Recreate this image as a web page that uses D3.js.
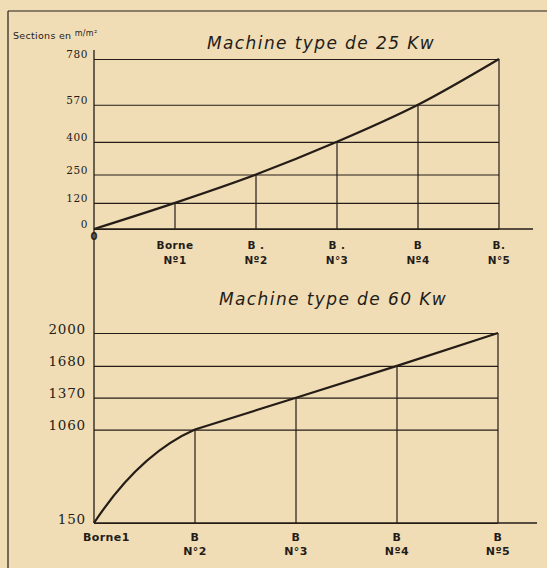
<!DOCTYPE html>
<html>
<head>
<meta charset="utf-8">
<script src="https://cdn.jsdelivr.net/npm/d3@7"></script>
<style>
  html, body { margin: 0; padding: 0; background: #f0ddb6; }
  svg { display: block; }
  text { fill: #241c16; }
</style>
</head>
<body>
<svg id="chart" width="547" height="568"></svg>
<script>
// Machine type de 25 Kw : sections (mm²) at each terminal
const stations25 = [0, 1, 2, 3, 4, 5];
const sections25 = [0, 120, 250, 400, 570, 780];
const ticks25 = [0, 120, 250, 400, 570, 780];
const labels25 = [null, ["Borne", "Nº1"], ["B .", "Nº2"], ["B .", "N°3"], ["B", "Nº4"], ["B.", "N°5"]];

// Machine type de 60 Kw
const stations60 = [0, 1, 2, 3, 4];
const sections60 = [150, 1060, 1370, 1680, 2000];
const ticks60 = [150, 1060, 1370, 1680, 2000];
const labels60 = [["Borne1"], ["B", "N°2"], ["B", "N°3"], ["B", "Nº4"], ["B", "Nº5"]];

const ink = "#241c16";
const svg = d3.select("#chart");

// page frame
svg.append("line").attr("x1", 8).attr("y1", 11).attr("x2", 547).attr("y2", 11)
  .attr("stroke", ink).attr("stroke-width", 1.2);
svg.append("line").attr("x1", 8).attr("y1", 11).attr("x2", 8).attr("y2", 568)
  .attr("stroke", ink).attr("stroke-width", 1.2);

// shared vertical axis line for both charts
svg.append("line").attr("x1", 94).attr("y1", 50).attr("x2", 94).attr("y2", 523)
  .attr("stroke", ink).attr("stroke-width", 1.3);

svg.append("text").attr("x", 13).attr("y", 39)
  .attr("font-family", "DejaVu Sans").attr("font-size", 9.5)
  .attr("letter-spacing", 0.3)
  .text("Sections en ")
  .append("tspan").attr("font-size", 8).attr("dy", -3).text("m/m²");

// upper curve: smooth monotone spline through the terminal values
function monotonePath(x, y, stations, sections) {
  return d3.line().x(d => x(d)).y(d => y(sections[d])).curve(d3.curveMonotoneX)(stations);
}

// lower curve: bowed rise to the second terminal, then straight runs
function bowedPath(x, y, stations, sections) {
  const p = d3.path();
  const x0 = x(stations[0]), y0 = y(sections[0]);
  const x1 = x(stations[1]), y1 = y(sections[1]);
  const x2 = x(stations[2]), y2 = y(sections[2]);
  const s = 1.4 * (y1 - y2) / (x2 - x1);
  const cx = x0 + 0.45 * (x1 - x0);
  const cy = y1 + s * (x1 - cx);
  p.moveTo(x0, y0);
  p.quadraticCurveTo(cx, cy, x1, y1);
  stations.slice(2).forEach(d => p.lineTo(x(d), y(sections[d])));
  return p.toString();
}

function drawPanel(cfg) {
  const g = svg.append("g");
  const x = d3.scaleLinear().domain([0, cfg.stations.length - 1]).range(cfg.xRange);
  const y = d3.scaleLinear().domain(cfg.yDomain).range(cfg.yRange);
  const right = x(cfg.stations[cfg.stations.length - 1]);

  // horizontal reference lines with their values
  const axis = d3.axisLeft(y)
    .tickValues(cfg.ticks)
    .tickSize(-(right - cfg.xRange[0]))
    .tickPadding(cfg.tickPad)
    .tickFormat(d3.format("d"));
  const ax = g.append("g").attr("transform", `translate(${cfg.xRange[0]},0)`).call(axis);
  ax.select(".domain").remove();
  ax.selectAll("line").attr("stroke", ink).attr("stroke-width", 1.2);
  ax.selectAll("text")
    .attr("font-family", cfg.tickFont).attr("font-size", cfg.tickSize)
    .attr("letter-spacing", cfg.tickSpacing)
    .attr("fill", ink).attr("dy", cfg.tickDy);

  // base line
  g.append("line")
    .attr("x1", cfg.xRange[0]).attr("x2", cfg.baseEnd)
    .attr("y1", y(cfg.yDomain[0])).attr("y2", y(cfg.yDomain[0]))
    .attr("stroke", ink).attr("stroke-width", 1.4);

  // verticals at each terminal up to the curve
  g.selectAll(".stem").data(cfg.stations.slice(1)).join("line")
    .attr("x1", d => x(d)).attr("x2", d => x(d))
    .attr("y1", y(cfg.yDomain[0]))
    .attr("y2", d => y(cfg.sections[d]))
    .attr("stroke", ink).attr("stroke-width", 1.2);

  // section curve
  g.append("path").attr("d", cfg.curve(x, y, cfg.stations, cfg.sections))
    .attr("fill", "none").attr("stroke", ink).attr("stroke-width", 2.2)
    .attr("stroke-linejoin", "round");

  // terminal labels
  cfg.stations.forEach((d, i) => {
    const lab = cfg.labels[i];
    if (!lab) return;
    lab.forEach((t, k) => {
      g.append("text")
        .attr("x", x(d) + (cfg.labelShift[i] || 0))
        .attr("y", cfg.labelY + k * cfg.labelGap)
        .attr("text-anchor", cfg.labelAnchor[i] || "middle")
        .attr("font-family", "DejaVu Sans").attr("font-size", cfg.labelSize)
        .attr("font-weight", "bold").attr("letter-spacing", 0.4)
        .text(t);
    });
  });

  // title
  g.append("text").attr("x", cfg.titleX).attr("y", cfg.titleY)
    .attr("text-anchor", "middle")
    .attr("font-family", "DejaVu Sans").attr("font-style", "italic")
    .attr("font-size", 17).attr("letter-spacing", 1.4)
    .text(cfg.title);
}

drawPanel({
  stations: stations25, sections: sections25, ticks: ticks25, curve: monotonePath,
  xRange: [94, 499], yDomain: [0, 780], yRange: [229, 59],
  baseEnd: 533, tickPad: 6, tickFont: "DejaVu Serif", tickSize: 10.5, tickSpacing: 0.6,
  tickDy: "-0.1em",
  labels: labels25, labelShift: [], labelAnchor: [], labelY: 249, labelGap: 15, labelSize: 10.5,
  title: "Machine type de 25 Kw", titleX: 321, titleY: 49
});

// origin mark of the upper chart
svg.append("text").attr("x", 94).attr("y", 240).attr("text-anchor", "middle")
  .attr("font-family", "DejaVu Sans").attr("font-size", 10).attr("font-weight", "bold").text("0");

drawPanel({
  stations: stations60, sections: sections60, ticks: ticks60, curve: bowedPath,
  xRange: [94, 498], yDomain: [150, 2000], yRange: [523, 333],
  baseEnd: 537, tickPad: 8, tickFont: "DejaVu Serif", tickSize: 13.5, tickSpacing: 0.8,
  tickDy: "0em",
  labels: labels60, labelShift: [-11], labelAnchor: ["start"], labelY: 541, labelGap: 13.5, labelSize: 11,
  title: "Machine type de 60 Kw", titleX: 333, titleY: 305
});
</script>
</body>
</html>
